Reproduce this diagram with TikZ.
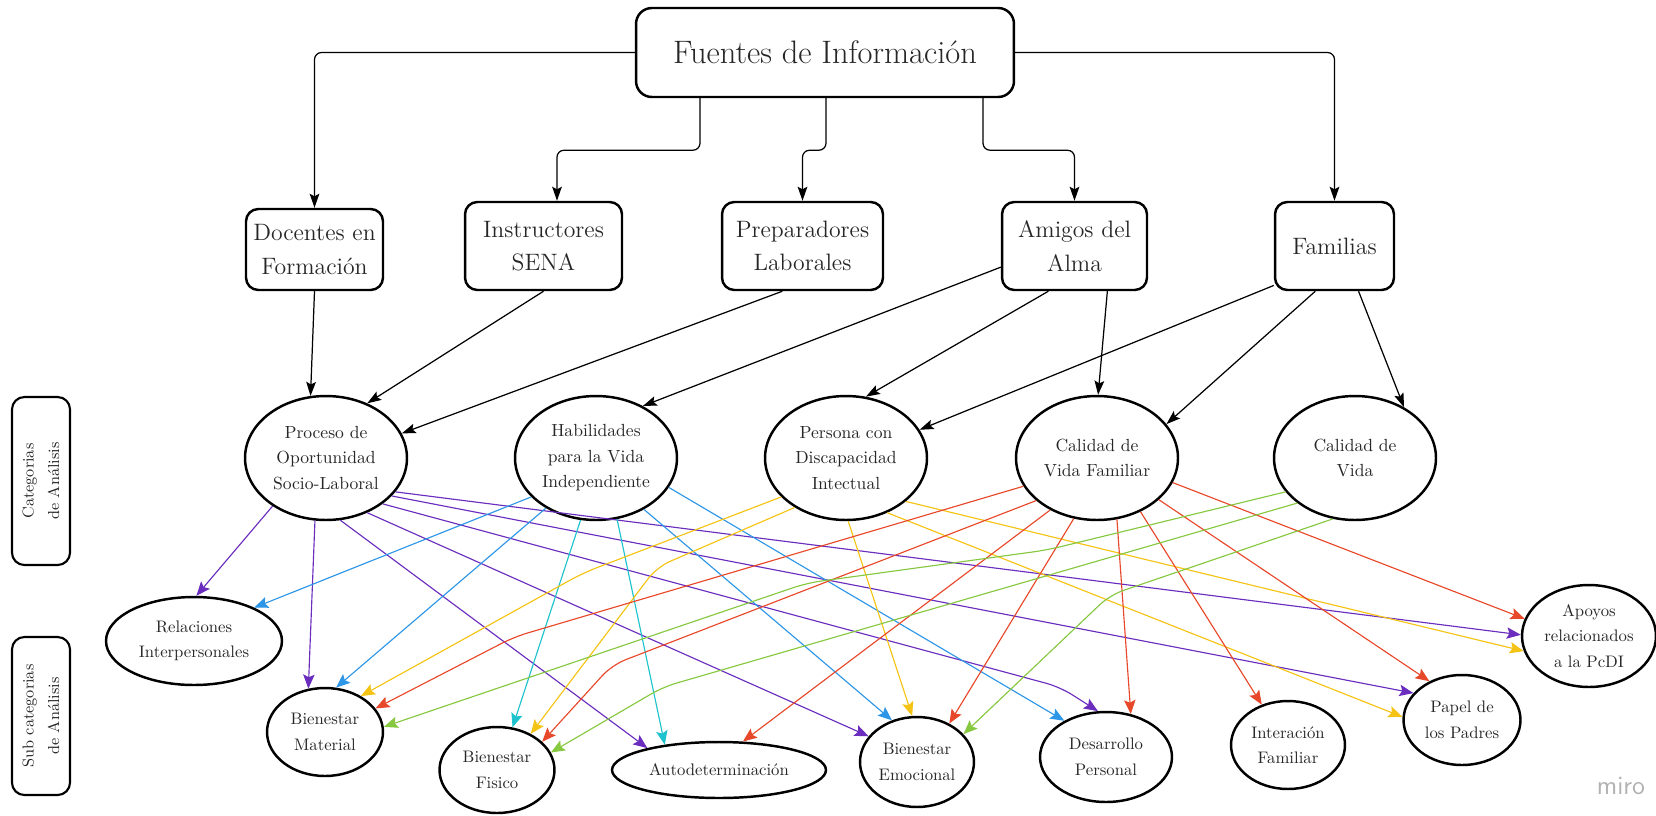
\documentclass[tikz,border=0pt]{standalone}
\usepackage{fontspec}
\usetikzlibrary{arrows.meta, shapes.geometric}

\definecolor{cpurple}{RGB}{106,45,190}
\definecolor{cblue}{RGB}{45,150,230}
\definecolor{ccyan}{RGB}{30,195,205}
\definecolor{cyellow}{RGB}{245,195,20}
\definecolor{cred}{RGB}{232,72,42}
\definecolor{cgreen}{RGB}{135,200,65}

\tikzset{
  fuente/.style={draw, line width=1.4pt, rounded corners=7pt, align=center, inner sep=0pt,
    font=\fontsize{13.5}{19}\selectfont, text=black!85},
  cat/.style={draw, ellipse, line width=1.4pt, align=center, inner sep=0pt,
    minimum width=3.24cm, minimum height=2.48cm, font=\fontsize{10}{14.5}\selectfont, text=black!85},
  sub/.style={draw, ellipse, line width=1.4pt, align=center, inner sep=0pt,
    font=\fontsize{9.5}{14.5}\selectfont, text=black!85},
  lado/.style={draw, line width=1.2pt, rounded corners=7pt, rotate=90, align=center, inner sep=0pt,
    minimum height=1.16cm, font=\fontsize{9}{14.5}\selectfont, text=black!85},
  flecha/.style={-{Stealth[length=8pt,width=5.5pt,inset=1.5pt]}, line width=0.7pt},
  rama/.style={flecha, rounded corners=4pt},
  col/.style={-{Stealth[length=8pt,width=6.5pt,inset=1.5pt]}, line width=0.65pt, rounded corners=8pt, draw=#1}
}

\begin{document}
\begin{tikzpicture}[x=0.02cm, y=-0.02cm]
  \useasboundingbox (0,0) rectangle (1656,815);

  \node[fuente, minimum width=7.56cm, minimum height=1.78cm, rounded corners=9pt,
    font=\fontsize{18.5}{22}\selectfont] (fuentes) at (825,52.5) {Fuentes de Información};

  \node[fuente, minimum width=2.74cm, minimum height=1.62cm] (docentes) at (314.5,249.5) {Docentes en\\Formación};
  \node[fuente, minimum width=3.14cm, minimum height=1.76cm] (instructores) at (543.5,246) {Instructores\\SENA};
  \node[fuente, minimum width=3.22cm, minimum height=1.76cm] (preparadores) at (802.5,246) {Preparadores\\Laborales};
  \node[fuente, minimum width=2.9cm, minimum height=1.76cm] (amigos) at (1074.5,246) {Amigos del\\Alma};
  \node[fuente, minimum width=2.38cm, minimum height=1.76cm] (familias) at (1334.5,246) {Familias};

  \node[cat] (proceso) at (326,458) {Proceso de\\Oportunidad\\Socio-Laboral};
  \node[cat] (habilidades) at (596,458) {Habilidades\\para la Vida\\Independiente};
  \node[cat] (persona) at (846,458) {Persona con\\Discapacidad\\Intectual};
  \node[cat] (cvfamiliar) at (1097,458) {Calidad de\\Vida Familiar};
  \node[cat] (cvida) at (1355,458) {Calidad de\\Vida};

  \node[sub, minimum width=3.52cm, minimum height=1.76cm] (relaciones) at (194,641) {Relaciones\\Interpersonales};
  \node[sub, minimum width=2.32cm, minimum height=1.76cm] (material) at (325,732) {Bienestar\\Material};
  \node[sub, minimum width=2.3cm, minimum height=1.72cm] (fisico) at (497,770) {Bienestar\\Fisico};
  \node[sub, minimum width=4.28cm, minimum height=1.12cm] (autodet) at (719,770) {Autodeterminación};
  \node[sub, minimum width=2.28cm, minimum height=1.8cm] (emocional) at (917,762) {Bienestar\\Emocional};
  \node[sub, minimum width=2.64cm, minimum height=1.8cm] (desarrollo) at (1106,757) {Desarrollo\\Personal};
  \node[sub, minimum width=2.28cm, minimum height=1.76cm] (interaccion) at (1288,745) {Interación\\Familiar};
  \node[sub, minimum width=2.34cm, minimum height=1.8cm] (papel) at (1462,720) {Papel de\\los Padres};
  \node[sub, minimum width=2.68cm, minimum height=2.04cm] (apoyos) at (1589,636) {Apoyos\\relacionados\\a la PcDI};

  \node[lado, minimum width=3.36cm] (categorias) at (41,481) {Categorias\\de Análisis};
  \node[lado, minimum width=3.16cm] (subcategorias) at (41,716) {Sub categorias\\de Análisis};

  \node[text=black!30, font=\sffamily\fontsize{15}{15}\selectfont] (miro) at (1621,786) {miro};

  \draw[rama] (fuentes.west) -| (docentes.north);
  \draw[rama] (fuentes.south) ++(-125,0) -- ++(0,52) -| ([xshift=0.27cm]instructores.north);
  \draw[rama] (fuentes.south) ++(1,0) -- ++(0,52) -| (preparadores.north);
  \draw[rama] (fuentes.south) ++(158,0) -- ++(0,52) -| (amigos.north);
  \draw[rama] (fuentes.east) -| (familias.north);

  \draw[flecha] (docentes.south) -- (proceso.104);
  \draw[flecha] (instructores.south) -- (proceso.53);
  \draw[flecha] (preparadores.246) -- (proceso.18);
  \draw[flecha] (amigos.196) -- (habilidades.48);
  \draw[flecha] (amigos.240) -- (persona.72);
  \draw[flecha] (amigos.306) -- (cvfamiliar.89);
  \draw[flecha] (familias.213) -- (persona.21);
  \draw[flecha] (familias.247) -- (cvfamiliar.26);
  \draw[flecha] (familias.298) -- (cvida.46);

  \draw[col=cpurple] (proceso.222) -- (relaciones.87);
  \draw[col=cpurple] (proceso.260) -- (material.111);
  \draw[col=cpurple] (proceso.283) -- (autodet.163);
  \draw[col=cpurple] (proceso.307) -- (emocional.152);
  \draw[col=cpurple] (proceso.321) -- (1060,687) -- (desarrollo.100);
  \draw[col=cpurple] (proceso.330) -- (papel.151);
  \draw[col=cpurple] (proceso.334) -- (apoyos.179);

  \draw[col=cblue] (habilidades.211) -- (relaciones.29);
  \draw[col=cblue] (habilidades.225) -- (material.76);
  \draw[col=cblue] (habilidades.313) -- (emocional.121);
  \draw[col=cblue] (habilidades.338) -- (desarrollo.139);
  \draw[col=ccyan] (habilidades.256) -- (fisico.70);
  \draw[col=ccyan] (habilidades.289) -- (autodet.155);

  \draw[col=cyellow] (persona.211) -- (583,573) -- (material.45);
  \draw[col=cyellow] (persona.224) -- (657,567) -- (fisico.47);
  \draw[col=cyellow] (persona.272) -- (emocional.96);
  \draw[col=cyellow] (persona.307) -- (papel.177);
  \draw[col=cyellow] (persona.324) -- (apoyos.193);

  \draw[col=cred] (cvfamiliar.201) -- (514,637) -- (material.25);
  \draw[col=cred] (cvfamiliar.215) -- (612,665) -- (fisico.32);
  \draw[col=cred] (cvfamiliar.228) -- (autodet.50);
  \draw[col=cred] (cvfamiliar.249) -- (emocional.50);
  \draw[col=cred] (cvfamiliar.288) -- (desarrollo.60);
  \draw[col=cred] (cvfamiliar.309) -- (interaccion.123);
  \draw[col=cred] (cvfamiliar.326) -- (papel.130);
  \draw[col=cred] (cvfamiliar.342) -- (apoyos.165);

  \draw[col=cgreen] (cvida.206) -- (1047,550) -- (807,583) -- (material.5);
  \draw[col=cgreen] (cvida.218) -- (663,687) -- (fisico.18);
  \draw[col=cgreen] (cvida.250) -- (1110,595) -- (emocional.31);
\end{tikzpicture}
\end{document}
